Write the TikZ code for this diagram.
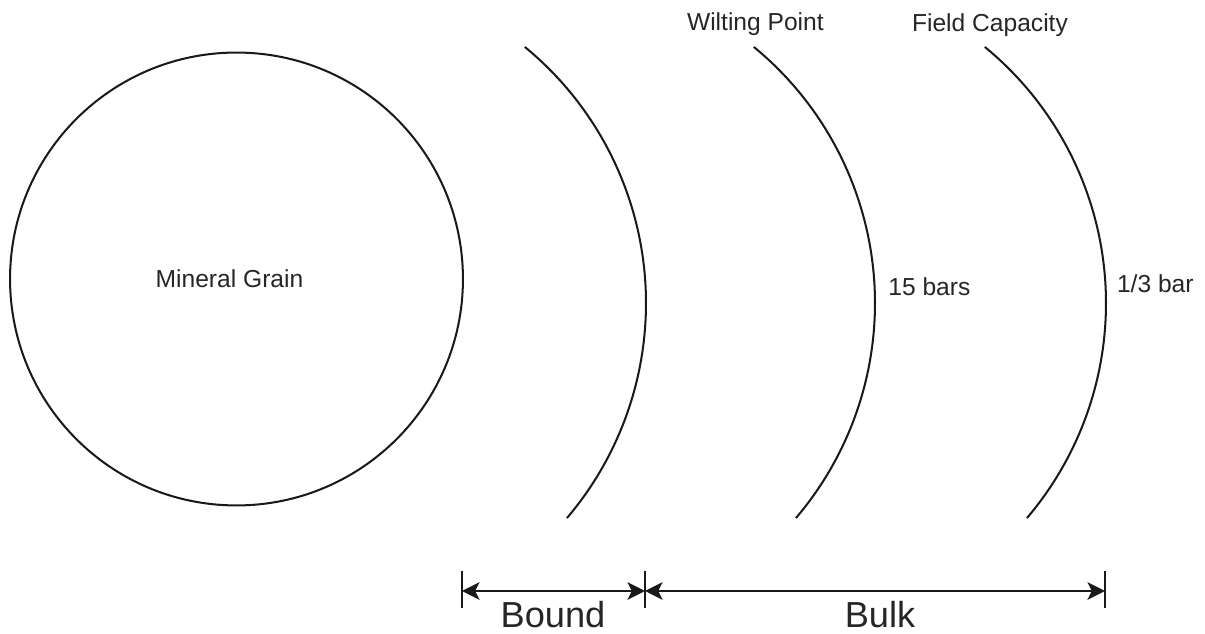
\documentclass[tikz,border=0pt]{standalone}
\usepackage{fontspec}
\setmainfont{Liberation Sans}
\usetikzlibrary{arrows.meta}
\begin{document}
\begin{tikzpicture}[x=0.02cm,y=-0.02cm,
  line/.style={line width=1.15pt,black!90},
  lbl/.style={inner sep=0pt,font=\fontsize{14}{16}\selectfont,text=black!85},
  big/.style={inner sep=0pt,font=\fontsize{20.6}{24}\selectfont,text=black!85},
  dim/.style={line width=1.15pt,black!90,{Stealth[length=10pt,width=10pt,inset=2.5pt]}-{Stealth[length=10pt,width=10pt,inset=2.5pt]}},
  tick/.style={line width=1.15pt,black!90}]
\useasboundingbox (0,0) rectangle (1205,634);
% mineral grain
\node[line,draw,circle,minimum size=9.06cm,inner sep=0pt] (grain) at (236.5,279) {};
\node[lbl,anchor=base] (graintxt) at (229.5,287.7) {Mineral Grain};
% arcs
\draw[line] (314.4,303.2) ++(-50.6:331.6) arc[start angle=-50.6,end angle=40.4,radius=331.6];
\draw[line] (543.4,303.2) ++(-50.6:331.6) arc[start angle=-50.6,end angle=40.4,radius=331.6];
\draw[line] (774.4,303.2) ++(-50.6:331.6) arc[start angle=-50.6,end angle=40.4,radius=331.6];
% labels
\node[lbl,anchor=base west] (wp) at (686.7,31) {Wilting Point};
\node[lbl,anchor=base west] (fc) at (911.7,32) {Field Capacity};
\node[lbl,anchor=base west] (b15) at (888,296) {15 bars};
\node[lbl,anchor=base west] (b13) at (1116.7,293) {1/3 bar};
% dimension lines
\coordinate (t1a) at (462,571); \coordinate (t1b) at (462,608);
\coordinate (t2a) at (645,571); \coordinate (t2b) at (645,608);
\coordinate (t3a) at (1105,571); \coordinate (t3b) at (1105,608);
\coordinate (d1) at (462,591); \coordinate (d2) at (645,591); \coordinate (d3) at (1105,591);
\draw[tick] (t1a) -- (t1b);
\draw[tick] (t2a) -- (t2b);
\draw[tick] (t3a) -- (t3b);
\draw[dim] (d1) -- (d2);
\draw[dim] (d2) -- (d3);
\node[big,anchor=base] (bound) at (553,628) {Bound};
\node[big,anchor=base] (bulk) at (880,628) {Bulk};
\end{tikzpicture}
\end{document}
